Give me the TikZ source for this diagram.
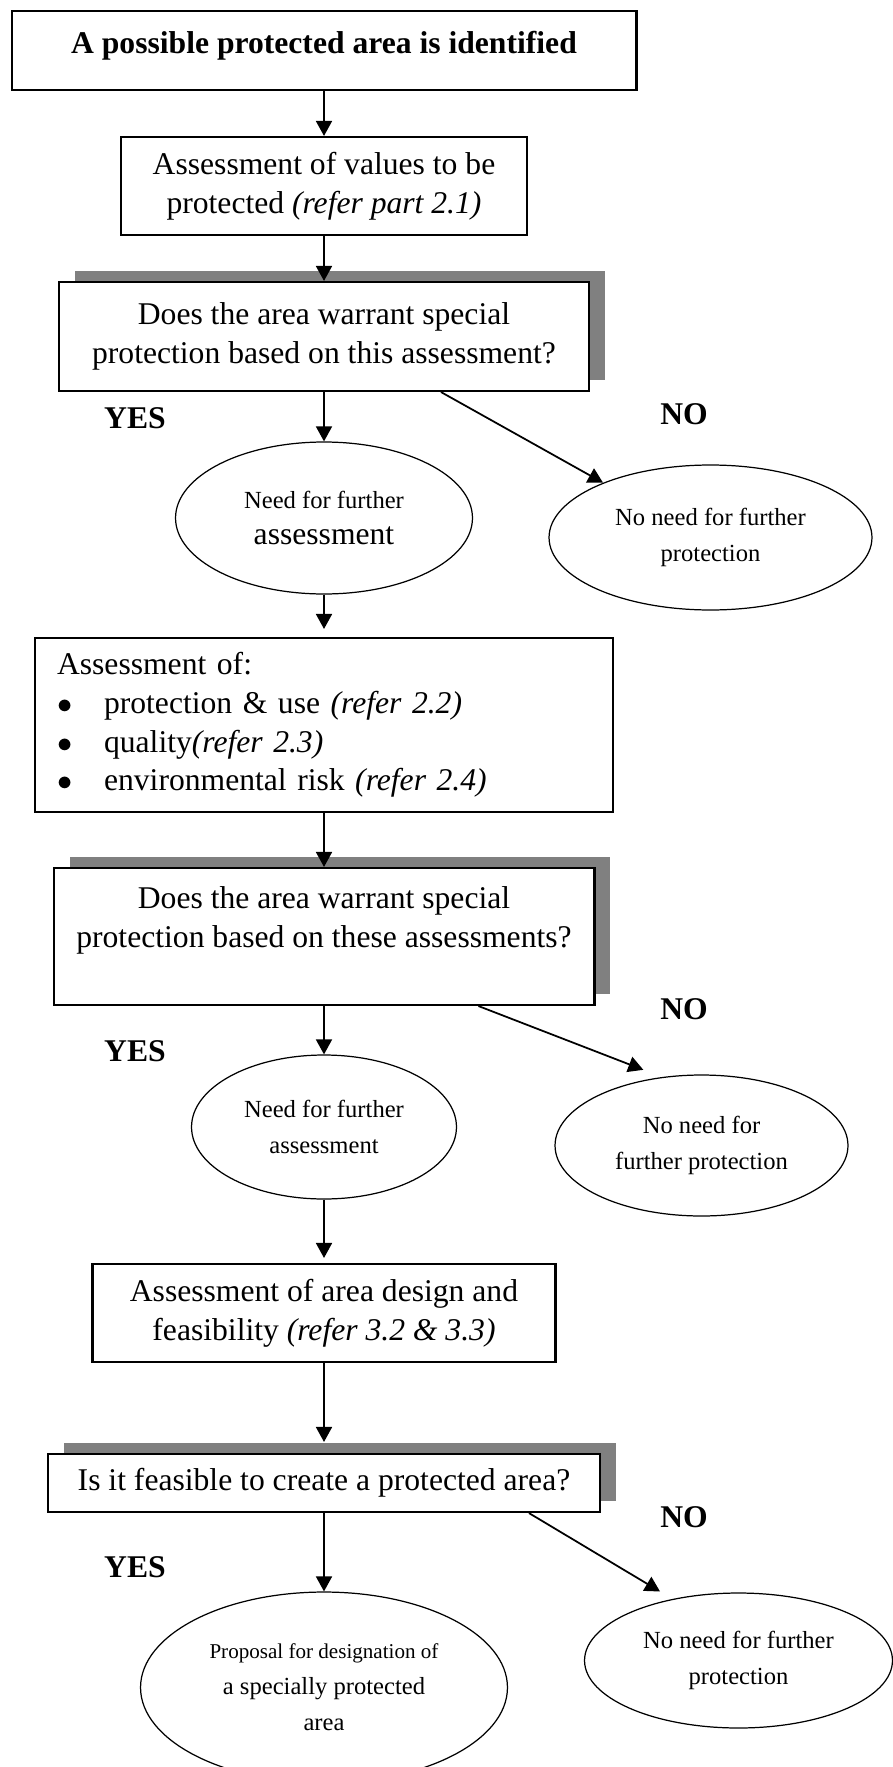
\documentclass[tikz,border=0pt]{standalone}
\usepackage{fontspec}
\setmainfont{Liberation Serif}
\usetikzlibrary{arrows.meta,shapes.geometric,shadows}
\definecolor{shadegray}{HTML}{808080}
\newcommand\bodyfont{\fontsize{18}{22}\selectfont}
\newcommand\smallfont{\fontsize{14}{20.5}\selectfont}
\newcommand\bul{\makebox[0.94cm][l]{$\bullet$}}

\begin{document}
\begin{tikzpicture}[x=0.02cm, y=-0.02cm,
  box/.style={draw, line width=1.2pt, fill=white, inner sep=0pt, align=center, font=\bodyfont},
  shadowbox/.style={box, general shadow={fill=shadegray, shadow xshift=0.32cm, shadow yshift=0.22cm}},
  oval/.style={draw, ellipse, line width=0.7pt, inner sep=0pt, align=center, font=\smallfont},
  answer/.style={font=\bodyfont\bfseries},
  arr/.style={-{Triangle[width=0.32cm, length=0.3cm]}, line width=1pt}]
  \useasboundingbox (0,0) rectangle (892,1767);
  \node[box, minimum width=12.5cm, text height=0.85cm, text depth=0.73cm] (identified) at (324,50.5) {\bfseries A possible protected area is identified};
  \node[box, minimum width=8.11cm, minimum height=1.96cm] (values) at (324,186) {Assessment of values to be\\protected \textit{(refer part 2.1)}};
  \node[shadowbox, minimum width=10.6cm, minimum height=2.18cm] (warrant1) at (324,336.5) {Does the area warrant special\\protection based on this assessment?};
  \node[answer] (yes1) at (135,418) {YES};
  \node[answer] (no1) at (684,414) {NO};
  \node[oval, minimum width=5.94cm, minimum height=3.04cm] (further1) at (324,518) {Need for further\\{\bodyfont assessment}};
  \node[oval, minimum width=6.46cm, minimum height=2.9cm] (stop1) at (710.5,537.5) {No need for further\\protection};
  \node[box, text width=10.68cm, inner xsep=0.44cm, minimum height=3.48cm, align=left] (criteria) at (324,725) {Assessment of:\\
    \bul protection \& use \textit{(refer 2.2)}\\
    \bul quality\textit{(refer 2.3)}\\
    \bul environmental risk \textit{(refer 2.4)}};
  \node[shadowbox, minimum width=10.82cm, minimum height=2.74cm] (warrant2) at (324,936.5) {Does the area warrant special\\protection based on these assessments?\\ \mbox{}};
  \node[answer] (yes2) at (135,1051) {YES};
  \node[answer] (no2) at (684,1009.5) {NO};
  \node[oval, minimum width=5.3cm, minimum height=2.88cm] (further2) at (324,1127) {Need for further\\assessment};
  \node[oval, minimum width=5.86cm, minimum height=2.82cm] (stop2) at (701.5,1145.5) {No need for\\further protection};
  \node[box, minimum width=9.26cm, minimum height=1.96cm] (design) at (324,1313) {Assessment of area design and\\feasibility \textit{(refer 3.2 \& 3.3)}};
  \node[shadowbox, minimum width=11.04cm, minimum height=1.16cm] (feasible) at (324,1483) {Is it feasible to create a protected area?};
  \node[answer] (yes3) at (135,1567) {YES};
  \node[answer] (no3) at (684,1517) {NO};
  \node[oval, minimum width=7.34cm, minimum height=3.82cm] (proposal) at (324,1687.5) {{\fontsize{12}{20.5}\selectfont Proposal for designation of}\\a specially protected\\area};
  \node[oval, minimum width=6.16cm, minimum height=2.7cm] (stop3) at (738.5,1660.5) {No need for further\\protection};
  \draw[arr] (identified) -- (values);
  \draw[arr] (values) -- (warrant1);
  \draw[arr] (warrant1) -- (further1);
  \draw[arr] ([xshift=2.34cm]warrant1.south) -- (stop1.153);
  \draw[arr, shorten >=0.16cm] (further1) -- (criteria);
  \draw[arr] (criteria) -- (warrant2);
  \draw[arr] (warrant2) -- (further2);
  \draw[arr, shorten >=0.4cm] ([xshift=3.09cm]warrant2.south) -- (stop2.120);
  \draw[arr, shorten >=0.1cm] (further2) -- (design);
  \draw[arr, shorten >=0.22cm] (design) -- (feasible);
  \draw[arr] (feasible) -- (proposal);
  \draw[arr, shorten >=0.29cm] ([xshift=4.1cm]feasible.south) -- (stop3.137);
\end{tikzpicture}
\end{document}
